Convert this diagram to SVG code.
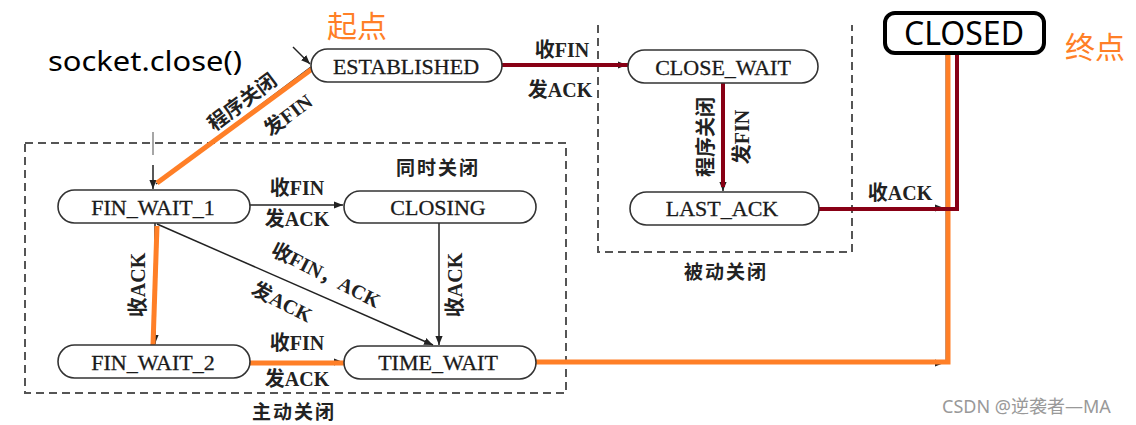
<svg xmlns="http://www.w3.org/2000/svg" width="1136" height="425" viewBox="0 0 1136 425">
<defs>
<style>
.node rect {fill:#fff; stroke:#333; stroke-width:1.6}
.nt {font-family:"Liberation Serif","Noto Sans CJK SC",serif; font-size:22px; fill:#1a1a1a; stroke:#1a1a1a; stroke-width:0.3; text-anchor:middle; dominant-baseline:central}
.lbl {font-family:"Liberation Serif","Noto Sans CJK SC",serif; font-size:20px; font-weight:bold; fill:#222; text-anchor:middle; dominant-baseline:central}
.grp {font-family:"Noto Sans CJK SC",sans-serif; font-size:19px; font-weight:bold; fill:#222; text-anchor:middle; dominant-baseline:central; letter-spacing:2px}
.box {fill:none; stroke:#555; stroke-width:2; stroke-dasharray:8 5}
.edge {fill:none; stroke:#222; stroke-width:1.5}
.gray {fill:none; stroke:#888; stroke-width:1.5}
.org {fill:none; stroke:#FF7F27; stroke-width:5}
.red {fill:none; stroke:#880015; stroke-width:4}
.note {font-family:"Noto Sans CJK SC",sans-serif; font-size:30px; fill:#FF7F27}
.sans {font-family:"Noto Sans","Open Sans",sans-serif; fill:#000}
</style>
<marker id="arr" viewBox="0 0 10 10" refX="10" refY="5" markerWidth="9" markerHeight="9" markerUnits="userSpaceOnUse" orient="auto"><path d="M0,1 L10,5 L0,9 z" fill="#222"/></marker>
</defs>

<g id="boxes">
<rect class="box" x="25" y="143" width="541" height="250"/>
<path class="box" d="M598,25 V252 H852 V25"/>
<text class="grp" x="438" y="166">同时关闭</text>
<text class="grp" x="726" y="270">被动关闭</text>
<text class="grp" x="294" y="410">主动关闭</text>
</g>

<g id="connectors">
<path class="edge" d="M293,47 L310,64" marker-end="url(#arr)"/>
<path class="gray" d="M153,132 V155"/>
<path class="edge" d="M153,165 V189" marker-end="url(#arr)"/>
<path class="edge" d="M311,67 L156,184"/>
<path class="edge" d="M250,205 H343" marker-end="url(#arr)"/>
<path class="edge" d="M439,223 V345" marker-end="url(#arr)"/>
<path class="edge" d="M157,224 L433,345" marker-end="url(#arr)"/>
<path class="edge" d="M155,223 V344" marker-end="url(#arr)"/>
<path class="edge" d="M250,362 H343" marker-end="url(#arr)"/>
<path class="edge" d="M502,65 H627" marker-end="url(#arr)"/>
<path class="edge" d="M723,83 V191" marker-end="url(#arr)"/>
<path class="gray" d="M819,208 H944" stroke-dasharray="6 4" marker-end="url(#arr)"/>
<path class="gray" d="M536,363 H944" marker-end="url(#arr)"/>
<path class="gray" d="M946,363 V53"/>

<path class="org" d="M312,69 L157,183"/>
<path class="org" d="M157,226 L153,345"/>
<path class="org" d="M245,363 H344"/>
<path class="org" d="M536,362 H948 V55"/>
<path class="red" d="M502,65 H628"/>
<path class="red" d="M723,83 V187"/>
<path class="red" d="M819,209 H957 V55"/>

<text class="lbl" x="297" y="188">收FIN</text>
<text class="lbl" x="297" y="219">发ACK</text>
<text class="lbl" x="297" y="343">收FIN</text>
<text class="lbl" x="297" y="379">发ACK</text>
<text class="lbl" transform="translate(326,275) rotate(27)">收FIN，ACK</text>
<text class="lbl" transform="translate(282,302) rotate(27)">发ACK</text>
<text class="lbl" transform="translate(138,285) rotate(-90)">收ACK</text>
<text class="lbl" transform="translate(455,285) rotate(-90)">收ACK</text>
<text class="lbl" transform="translate(242,102) rotate(-37)">程序关闭</text>
<text class="lbl" transform="translate(288,115) rotate(-37)">发FIN</text>
<text class="lbl" x="562" y="50">收FIN</text>
<text class="lbl" x="560" y="90">发ACK</text>
<text class="lbl" transform="translate(706,137) rotate(-90)">程序关闭</text>
<text class="lbl" transform="translate(742,137) rotate(-90)">发FIN</text>
<text class="lbl" x="900" y="193">收ACK</text>
</g>

<g id="established" class="node"><rect x="311" y="49" width="191" height="33" rx="16.5"/><text class="nt" x="406" y="66">ESTABLISHED</text></g>
<g id="close_wait" class="node"><rect x="628" y="50" width="190" height="33" rx="16.5"/><text class="nt" x="723" y="67">CLOSE_WAIT</text></g>
<g id="fin_wait_1" class="node"><rect x="58" y="190" width="192" height="33" rx="16.5"/><text class="nt" x="153" y="207">FIN_WAIT_1</text></g>
<g id="closing" class="node"><rect x="344" y="191" width="192" height="32" rx="16"/><text class="nt" x="438" y="207">CLOSING</text></g>
<g id="fin_wait_2" class="node"><rect x="58" y="345" width="192" height="33" rx="16.5"/><text class="nt" x="153" y="362">FIN_WAIT_2</text></g>
<g id="time_wait" class="node"><rect x="344" y="346" width="192" height="33" rx="16.5"/><text class="nt" x="438" y="362">TIME_WAIT</text></g>
<g id="last_ack" class="node"><rect x="630" y="192" width="189" height="33" rx="16.5"/><text class="nt" x="722" y="208">LAST_ACK</text></g>
<g id="closed"><rect x="885" y="13" width="159" height="40" rx="10" fill="#fff" stroke="#000" stroke-width="4"/><text class="sans" x="964" y="45" font-size="32" text-anchor="middle">CLOSED</text></g>

<g id="annotations">
<text class="sans" x="48" y="71" font-size="28" textLength="194" lengthAdjust="spacingAndGlyphs">socket.close()</text>
<text class="note" x="327" y="37">起点</text>
<text class="note" x="1065" y="58">终点</text>
<text x="942" y="413" font-family="Noto Sans,'Noto Sans CJK SC',sans-serif" font-size="18" fill="#999">CSDN @逆袭者—MA</text>
</g>
</svg>
